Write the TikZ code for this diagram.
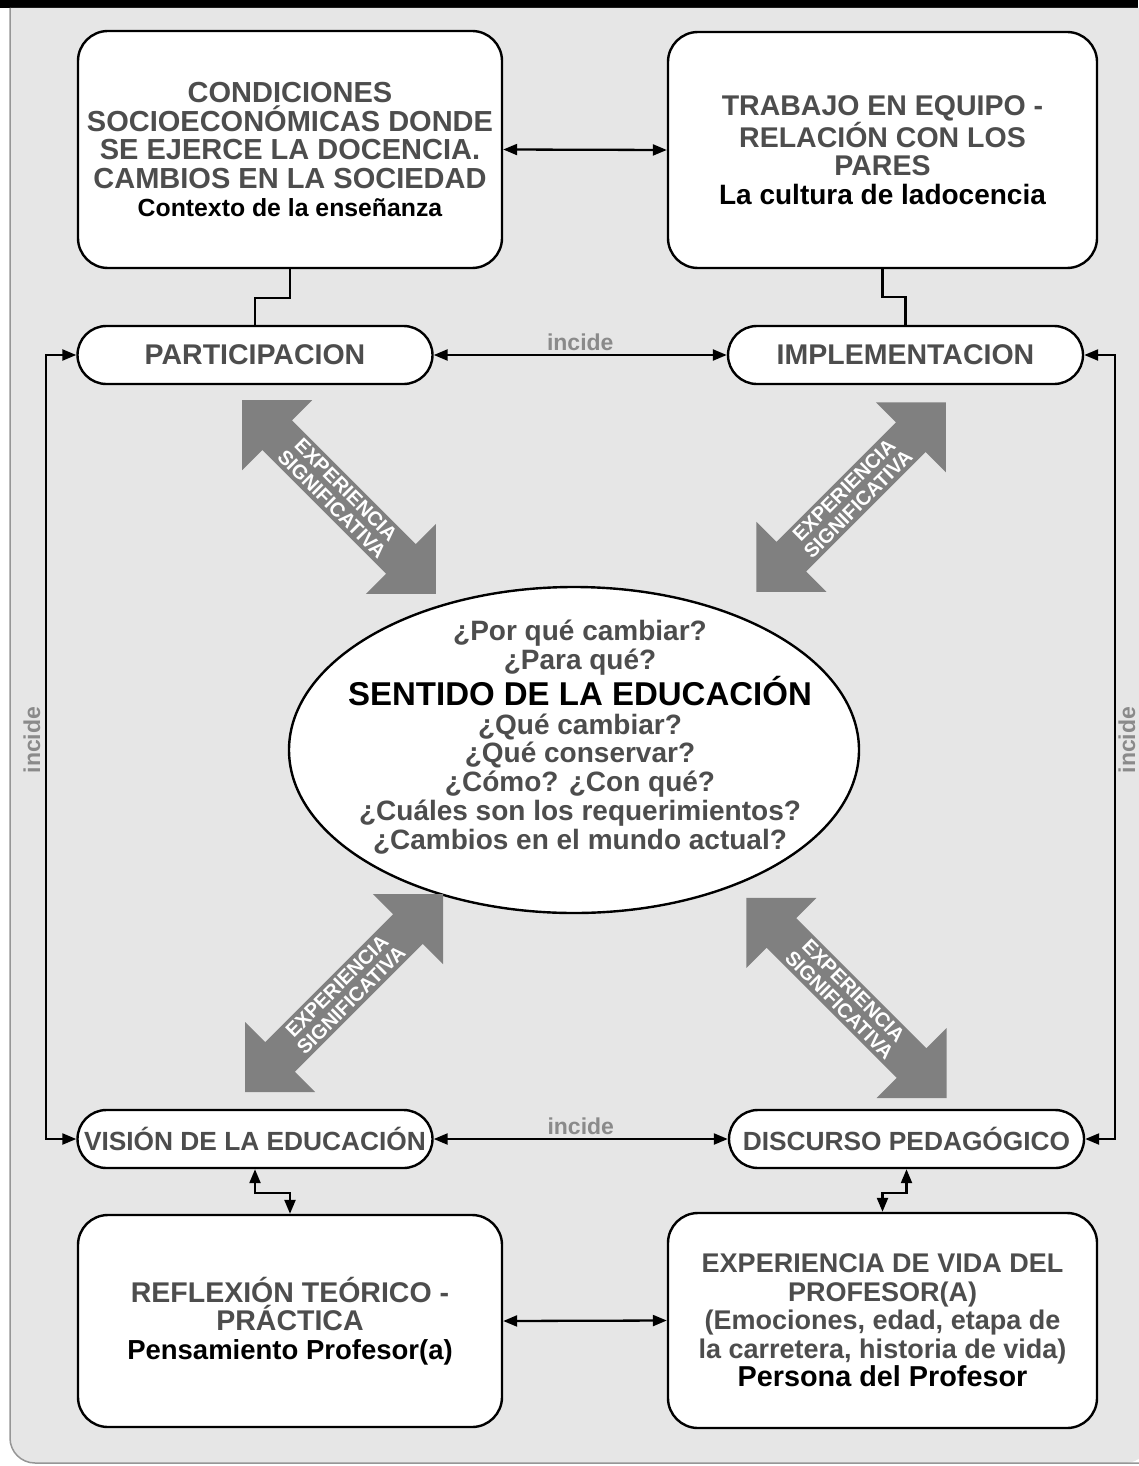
\documentclass[tikz,border=0pt]{standalone}
\usepackage{fontspec}
\setmainfont{Liberation Sans}
\usetikzlibrary{arrows.meta,shapes.geometric,shapes.arrows}

\definecolor{panelgray}{RGB}{230,230,230}
\definecolor{rimgray}{RGB}{150,150,150}
\definecolor{textgray}{RGB}{77,77,77}
\definecolor{fatgray}{RGB}{128,128,128}
\definecolor{incgray}{RGB}{138,138,138}

\newcommand{\subtitulo}[2][28.5]{{\fontsize{#1}{28.5}\selectfont\color{black}#2}}
\newcommand{\letra}[1]{\fontsize{#1}{28.5}\selectfont\bfseries}

\tikzset{
  bigbox/.style={draw, line width=2.4pt, rounded corners=30pt, fill=white,
    align=center, text=textgray, font=\letra{28.5}},
  pill/.style={draw, line width=2.4pt, rounded corners=29pt, fill=white,
    minimum width=355pt, minimum height=58pt, text=textgray, font=\letra{28.5}},
  conn/.style={line width=2.3pt},
  twoway/.style={{Triangle[length=14pt,width=11pt]}-{Triangle[length=14pt,width=11pt]}},
  sigarrow/.style={double arrow, fill=fatgray, text=white, double arrow tip angle=90,
    double arrow head extend=23.5pt, minimum width=99pt, inner sep=0pt,
    align=center, font=\fontsize{20}{20}\selectfont\bfseries},
  incide/.style={text=incgray, font=\fontsize{23}{23}\selectfont\bfseries}
}

\begin{document}
\begin{tikzpicture}[x=1pt,y=-1pt]
  \useasboundingbox (0,0) rectangle (1138,1466);
  % background panel
  \fill[black] (0,0) rectangle (1138,8);
  \fill[panelgray] (10,8) [rounded corners=25pt] -- (10,1463) -- (1150,1463)
     [sharp corners] -- (1150,8) -- cycle;
  \draw[rimgray, line width=1.5pt] (10,8) [rounded corners=25pt] -- (10,1463) -- (1150,1463);

  % big boxes
  \node[bigbox, minimum width=424pt, minimum height=237pt, font=\letra{29}] (contexto) at (290,149.5)
     {CONDICIONES\\SOCIOECONÓMICAS DONDE\\SE EJERCE LA DOCENCIA.\\CAMBIOS EN LA SOCIEDAD\\
      \subtitulo[24.8]{Contexto de la enseñanza}};
  \node[bigbox, minimum width=429pt, minimum height=236pt] (trabajo) at (882.5,150)
     {TRABAJO EN EQUIPO -\\RELACIÓN CON LOS\\PARES\\
      \subtitulo[28]{La cultura de ladocencia}};
  \node[bigbox, minimum width=424pt, minimum height=212pt] (reflexion) at (290,1321)
     {REFLEXIÓN TEÓRICO -\\PRÁCTICA\\
      \subtitulo[27.5]{Pensamiento Profesor(a)}};
  \node[bigbox, minimum width=429pt, minimum height=215pt, font=\letra{27}] (persona) at (882.5,1320.5)
     {EXPERIENCIA DE VIDA DEL\\PROFESOR(A)\\(Emociones, edad, etapa de\\la carretera, historia de vida)\\
      \subtitulo[28.8]{Persona del Profesor}};

  % pills
  \node[pill] (participacion) at (255,355) {PARTICIPACION};
  \node[pill] (implementacion) at (905.5,355) {IMPLEMENTACION};
  \node[pill, font=\letra{26.3}] (vision) at (255,1139) {VISIÓN DE LA EDUCACIÓN};
  \node[pill, font=\letra{26.3}] (discurso) at (906.5,1139) {DISCURSO PEDAGÓGICO};

  % centre
  \node[draw, ellipse, line width=2.4pt, fill=white, minimum width=570pt,
     minimum height=326pt] (sentido) at (574,750) {};
  \node[align=center, text=textgray, font=\fontsize{28}{28.8}\selectfont\bfseries] (preguntas) at (580,737)
     {¿Por qué cambiar?\\¿Para qué?\\
      {\fontsize{33}{28.8}\selectfont\color{black}SENTIDO DE LA EDUCACIÓN}\\
      ¿Qué cambiar?\\¿Qué conservar?\\¿Cómo? ¿Con qué?\\
      ¿Cuáles son los requerimientos?\\¿Cambios en el mundo actual?};

  % experiencia significativa
  \node[sigarrow, minimum height=274pt, rotate=-45] (expA) at (339,497) {EXPERIENCIA\\SIGNIFICATIVA};
  \node[sigarrow, minimum height=268pt, rotate=45] (expB) at (851,497) {EXPERIENCIA\\SIGNIFICATIVA};
  \node[sigarrow, minimum height=280pt, rotate=45] (expC) at (344,993) {EXPERIENCIA\\SIGNIFICATIVA};
  \node[sigarrow, minimum height=283pt, rotate=-45] (expD) at (846.5,998) {EXPERIENCIA\\SIGNIFICATIVA};

  % connectors
  \draw[conn, twoway] (contexto.east) -- (trabajo.west);
  \draw[conn, twoway] (reflexion.east) -- (persona.west);
  \draw[conn, twoway] (participacion) -- node[incide, above] (incA) {incide} (implementacion);
  \draw[conn, twoway] (vision) -- node[incide, above] (incB) {incide} (discurso);
  \draw[conn] (contexto.south) -- ++(0,29) -| (participacion.north);
  \draw[conn] (trabajo.south) -- ++(0,28) -| (implementacion.north);
  \draw[conn, twoway] (vision.south) -- ++(0,24) -| (reflexion.north);
  \draw[conn, twoway] (discurso.south) -- ++(0,24) -| (persona.north);

  \coordinate (leftrail) at (46,740);
  \coordinate (rightrail) at (1115,740);
  \draw[conn, twoway] (participacion.west) -| (leftrail) |- (vision.west);
  \draw[conn, twoway] (implementacion.east) -| (rightrail) |- (discurso.east);
  \node[incide, rotate=90, inner sep=1pt] (incC) at (32,740) {incide};
  \node[incide, rotate=90, inner sep=1pt] (incD) at (1127,740) {incide};
\end{tikzpicture}
\end{document}
